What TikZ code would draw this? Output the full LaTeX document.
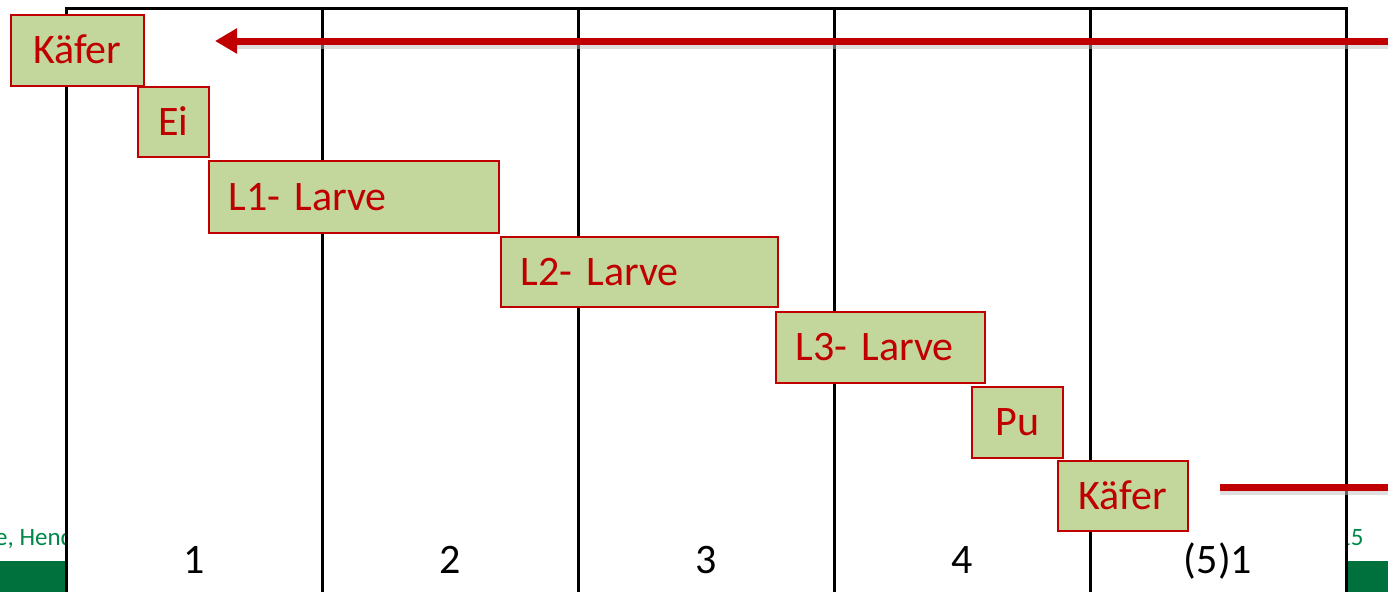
\documentclass[tikz,border=0pt]{standalone}
\usepackage{fontspec}
\setmainfont{Carlito}
\usetikzlibrary{arrows.meta}
\definecolor{boxfill}{HTML}{C3D69B}
\definecolor{boxred}{HTML}{C00000}
\definecolor{footgreen}{HTML}{00703C}
\definecolor{foottext}{HTML}{00874A}
\tikzset{
  stage/.style={draw=boxred, line width=1.5pt, fill=boxfill, text=boxred,
    anchor=north west, inner xsep=20pt, inner ysep=0pt, align=left,
    font=\fontsize{42}{50}\selectfont, text height=27pt, text depth=0pt},
  colnum/.style={font=\fontsize{42}{50}\selectfont, text height=27pt, text depth=0pt, inner sep=0pt},
  foot/.style={font=\fontsize{25}{30}\selectfont, text=foottext, text height=16pt, text depth=0pt, inner sep=0pt, anchor=west},
  gridline/.style={line width=3pt, black},
  redline/.style={line width=7pt, boxred},
  shadowline/.style={line width=7pt, black!25, opacity=0.5}
}
\begin{document}
\begin{tikzpicture}[x=1pt,y=-1pt]
\useasboundingbox (0,0) rectangle (1388,592);
% footer
\fill[footgreen] (0,561) rectangle (1388,592);
\node[foot] (ft1) at (-5,537) {e, Hend};
\node[foot] (ft2) at (1338,537) {15};
% table area
\fill[white] (66,8) rectangle (1346,592);
\draw[gridline] (66,592) -- (66,8) -- (1346,8) -- (1346,592);
\foreach \x in {322,578,834,1090} \draw[gridline] (\x,8) -- (\x,592);
% column numbers
\node[colnum] (n1) at (194,560) {1};
\node[colnum] (n2) at (450,560) {2};
\node[colnum] (n3) at (706,560) {3};
\node[colnum] (n4) at (962,560) {4};
\node[colnum] (n5) at (1218,560) {(5)1};
% arrows
\coordinate (aS) at (1388,41);
\coordinate (aE) at (215,41);
\coordinate (bS) at (1220,487);
\coordinate (bE) at (1388,487);
\draw[shadowline] ([yshift=-4pt]aS) -- ([xshift=20pt,yshift=-4pt]aE);
\draw[shadowline] ([yshift=-4pt]bS) -- ([yshift=-4pt]bE);
\draw[redline, -{Triangle[length=22pt,width=24pt]}] (aS) -- (aE);
\draw[redline] (bS) -- (bE);
% stages
\node[stage, minimum width=133pt, minimum height=71pt] (k1) at (10,14) {Käfer};
\node[stage, minimum width=71pt, minimum height=70pt] (ei) at (137,86) {Ei};
\node[stage, minimum width=290pt, minimum height=72pt, text width=250pt] (l1) at (208,160) {L1- Larve};
\node[stage, minimum width=277pt, minimum height=70pt, text width=237pt] (l2) at (500,236) {L2- Larve};
\node[stage, minimum width=209pt, minimum height=71pt, text width=169pt] (l3) at (775,311) {L3- Larve};
\node[stage, minimum width=91pt, minimum height=71pt] (pu) at (971,386) {Pu};
\node[stage, minimum width=130pt, minimum height=70pt] (k2) at (1057,460) {Käfer};
\end{tikzpicture}
\end{document}
